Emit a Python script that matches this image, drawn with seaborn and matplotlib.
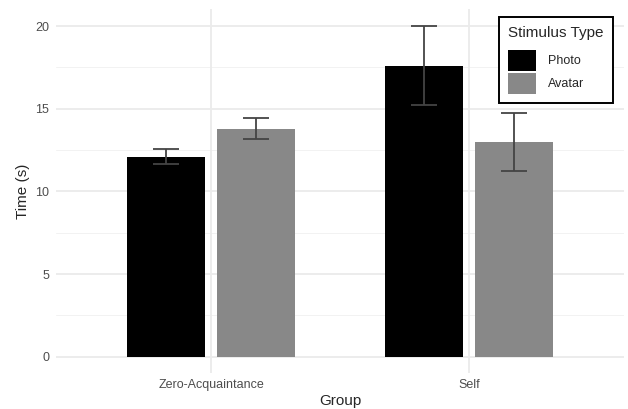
import pandas as pd
import numpy as np
import matplotlib
matplotlib.use('Agg')
import matplotlib.pyplot as plt
import seaborn as sns

# Data
groups = ['Zero-Acquaintance', 'Zero-Acquaintance', 'Self', 'Self']
stimulus = ['Photo', 'Avatar', 'Photo', 'Avatar']
mean_time = [12.08, 13.79, 17.60, 12.99]
err_low = [11.64, 13.17, 15.25, 11.25]
err_high = [12.54, 14.42, 20.00, 14.74]

df = pd.DataFrame({'Group': groups, 'Stimulus Type': stimulus, 'Time': mean_time,
                   'lo': err_low, 'hi': err_high})

sns.set_style('white')
plt.rcParams['font.family'] = ['Liberation Sans', 'DejaVu Sans']

fig = plt.figure(figsize=(6.28, 4.09), dpi=100)
ax = fig.add_axes([0.0895, 0.0875, 0.9038, 0.8893])

# minimal-theme grid
for y in [2.5, 7.5, 12.5, 17.5]:
    ax.axhline(y, color='#f2f2f2', lw=0.7, zorder=0)
for y in [0, 5, 10, 15, 20]:
    ax.axhline(y, color='#ebebeb', lw=1.3, zorder=0)
for x in [0, 1]:
    ax.axvline(x, color='#ebebeb', lw=1.3, zorder=0)

sns.barplot(data=df, x='Group', y='Time', hue='Stimulus Type',
            order=['Zero-Acquaintance', 'Self'], hue_order=['Photo', 'Avatar'],
            palette=['#000000', '#888888'], width=0.7, gap=0.143,
            errorbar=None, linewidth=0, saturation=1, ax=ax, zorder=2)

# error bars at the bar centres (containers: one per hue level, bars in group order)
order = ['Zero-Acquaintance', 'Self']
for cont, hue in zip(ax.containers, ['Photo', 'Avatar']):
    for bar, grp in zip(cont.patches, order):
        row = df[(df['Group'] == grp) & (df['Stimulus Type'] == hue)].iloc[0]
        x = bar.get_x() + bar.get_width() / 2
        ax.vlines(x, row['lo'], row['hi'], color='#444444', lw=1.3, zorder=3)
        ax.hlines([row['lo'], row['hi']], x - 0.05, x + 0.05, color='#444444', lw=1.3, zorder=3)

ax.set_xlim(-0.6, 1.6)
ax.set_ylim(-1, 21)
ax.set_yticks([0, 5, 10, 15, 20])
ax.tick_params(axis='both', length=0, labelsize=9, labelcolor='#4d4d4d')
ax.tick_params(axis='y', pad=5)
ax.tick_params(axis='x', pad=4)
ax.set_xlabel('Group', fontsize=11, labelpad=2)
ax.set_ylabel('Time (s)', fontsize=11, labelpad=4)
for s in ax.spines.values():
    s.set_visible(False)

leg = ax.legend(title='Stimulus Type', loc='upper right',
                bbox_to_anchor=(613 / 628, 1 - 16.7 / 409), bbox_transform=fig.transFigure,
                fontsize=9, title_fontsize=11, frameon=True, fancybox=False,
                edgecolor='black', framealpha=1, handlelength=2.2, handleheight=2.2,
                labelspacing=0.15, handletextpad=1.0, borderpad=0.75, borderaxespad=0)
leg.get_frame().set_linewidth(1.4)
leg._legend_box.align = 'left'
leg._legend_box.sep = 7

fig.savefig('out.png', dpi=100)
